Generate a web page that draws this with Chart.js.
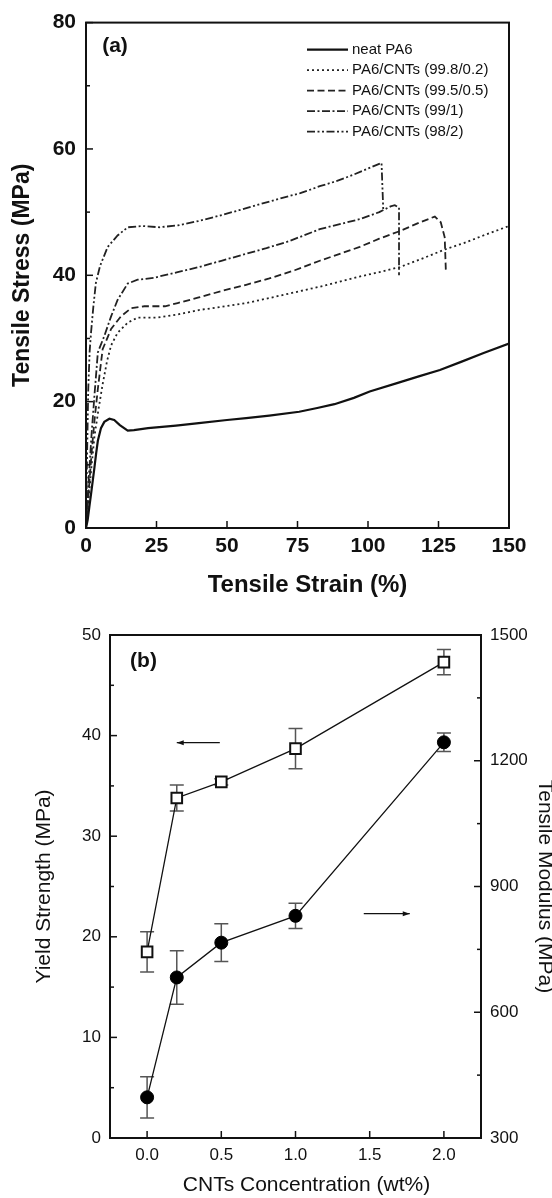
<!DOCTYPE html>
<html>
<head>
<meta charset="utf-8">
<script src="https://cdn.jsdelivr.net/npm/chart.js@4.4.1/dist/chart.umd.min.js"></script>
<style>
  html, body { margin: 0; padding: 0; background: #fff; overflow: hidden; }
  .panel { position: absolute; left: 0; width: 552px; }
  #wrapA { top: 0; height: 612px; }
  #wrapB { top: 612px; height: 586px; }
</style>
</head>
<body>
<div class="panel" id="wrapA"><canvas id="chartA"></canvas></div>
<div class="panel" id="wrapB"><canvas id="chartB"></canvas></div>
<script>
// ---- (a) stress-strain curves, [strain %, stress MPa] ----
const neatPA6 = [[0,0],[0.6,1.3],[1.2,3.4],[1.8,5.4],[2.4,7.5],[3,9.6],[3.6,11.8],[4.2,13.8],[5.3,15.8],[6.5,16.8],[8.3,17.3],[10,17.1],[12,16.3],[14.8,15.4],[17,15.5],[22,15.8],[31.9,16.2],[40,16.6],[50,17.1],[56.8,17.4],[65,17.8],[75.6,18.4],[82,19],[88.1,19.6],[95,20.6],[100.6,21.6],[110,22.9],[118,24],[125.5,25],[133,26.3],[141,27.7],[150,29.2]];
const cnt02 = [[0,0],[1,5],[2,10],[3,14.5],[4.5,19],[6,23],[7.5,26.5],[8.9,28.9],[11.2,30.9],[14.8,32.5],[18.3,33.3],[25,33.3],[32.5,33.8],[40,34.5],[48,35],[56.8,35.6],[65,36.4],[74,37.3],[82.9,38.2],[90,39],[97,39.8],[104,40.5],[111.3,41.3],[119,42.6],[127.3,44.1],[134,45.1],[140.9,46.3],[150,47.8]];
const cnt05 = [[0,0],[1,6],[2,12],[3,17],[4.2,22],[5.9,28.3],[8.9,31.5],[12.4,33.5],[16,34.8],[20.7,35.1],[28,35.1],[32.5,35.6],[40,36.5],[48,37.5],[56.8,38.5],[65,39.5],[74,40.8],[82.9,42.3],[90,43.4],[97.1,44.5],[104,45.8],[111.3,47],[118,48.3],[123.7,49.3],[125.8,48.4],[127.2,46],[127.6,40.8]];
const cnt1 = [[0,0],[1,8],[2,15],[3,21],[4.2,27.8],[6.5,30.4],[8.9,33.5],[11.2,36.1],[14.8,38.7],[18.3,39.3],[24,39.6],[32.5,40.5],[40,41.3],[48,42.3],[56,43.3],[64,44.3],[72,45.4],[82.9,47.3],[90,48.1],[97.2,48.9],[104,50],[108,50.9],[109.5,51.1],[111,50.7],[111,40]];
const cnt2 = [[0,0],[0.4,12],[0.8,22],[1.3,28],[1.8,31],[2.6,35],[3.5,38.8],[5,41.5],[7.7,44.5],[11.2,46.3],[14.8,47.6],[20,47.8],[26,47.6],[32.6,47.9],[40,48.6],[47,49.4],[54.3,50.3],[62,51.3],[70,52.3],[76,53],[82.9,54.1],[88.8,54.9],[94.7,55.9],[100,56.9],[104.8,57.8],[105.4,50.5]];
const seriesLabelsA = ['neat PA6', 'PA6/CNTs (99.8/0.2)', 'PA6/CNTs (99.5/0.5)', 'PA6/CNTs (99/1)', 'PA6/CNTs (98/2)'];
const strainTicks = [0, 25, 50, 75, 100, 125, 150];
const stressTicks = [0, 20, 40, 60, 80];
const stressMinor = [10, 30, 50, 70];

// ---- (b) yield strength / modulus vs CNT loading ----
const conc = [0, 0.2, 0.5, 1.0, 2.0];
const yieldStrength = [18.5, 33.8, 35.4, 38.7, 47.3];
const yieldErr = [2.0, 1.3, 0.3, 2.0, 1.25];
const modulus = [397, 683, 766, 830, 1244];
const modulusErr = [49, 64, 45, 30, 22];
const concTicks = [0, 0.5, 1, 1.5, 2];
const yieldTicks = [0, 10, 20, 30, 40, 50];
const yieldMinor = [5, 15, 25, 35, 45];
const modulusTicks = [300, 600, 900, 1200, 1500];
const modulusMinor = [450, 750, 1050, 1350];

Chart.defaults.font.family = "'Liberation Sans', Arial, sans-serif";
Chart.defaults.color = '#111';

const toXY = arr => arr.map(p => ({x: p[0], y: p[1]}));
const setTicks = vals => s => { s.ticks = vals.map(v => ({value: v})); };

// frame round the plot area plus inward tick marks
function framePlugin(spec) {
  return {
    id: 'frame',
    afterDraw(chart) {
      const {ctx, chartArea: a} = chart;
      ctx.save();
      ctx.strokeStyle = '#111';
      ctx.lineWidth = 1.5;
      spec.forEach(t => {
        const s = chart.scales[t.scale];
        const tick = (v, len) => {
          const p = s.getPixelForValue(v);
          ctx.beginPath();
          if (t.side === 'bottom') { ctx.moveTo(p, a.bottom); ctx.lineTo(p, a.bottom - len); }
          else if (t.side === 'left') { ctx.moveTo(a.left, p); ctx.lineTo(a.left + len, p); }
          else { ctx.moveTo(a.right, p); ctx.lineTo(a.right - len, p); }
          ctx.stroke();
        };
        t.major.forEach(v => tick(v, 7));
        (t.minor || []).forEach(v => tick(v, 4));
      });
      ctx.lineWidth = 2;
      ctx.strokeRect(a.left, a.top, a.right - a.left, a.bottom - a.top);
      ctx.restore();
    }
  };
}

function panelLabel(text, dx, dy) {
  return {
    id: 'panelLabel',
    afterDraw(chart) {
      const {ctx, chartArea: a} = chart;
      ctx.save();
      ctx.font = "bold 21px 'Liberation Sans', Arial, sans-serif";
      ctx.fillStyle = '#111';
      ctx.textAlign = 'center';
      ctx.textBaseline = 'middle';
      ctx.fillText(text, a.left + dx, a.top + dy);
      ctx.restore();
    }
  };
}

// x-axis title, sitting a little right of the plot centre as in the original
function xTitle(text, font, dx, y) {
  return {
    id: 'xTitle',
    afterDraw(chart) {
      const {ctx, chartArea: a} = chart;
      ctx.save();
      ctx.font = font;
      ctx.fillStyle = '#111';
      ctx.textAlign = 'center';
      ctx.textBaseline = 'middle';
      ctx.fillText(text, (a.left + a.right) / 2 + dx, y);
      ctx.restore();
    }
  };
}

const legendA = {
  id: 'legendA',
  afterDraw(chart) {
    const {ctx, chartArea: a} = chart;
    ctx.save();
    ctx.font = "15px 'Liberation Sans', Arial, sans-serif";
    ctx.textBaseline = 'middle';
    chart.data.datasets.forEach((ds, i) => {
      const y = a.top + 27 + i * 20.5;
      ctx.strokeStyle = ds.borderColor;
      ctx.lineWidth = ds.borderWidth;
      ctx.setLineDash(ds.borderDash || []);
      ctx.beginPath();
      ctx.moveTo(a.left + 221, y);
      ctx.lineTo(a.left + 262, y);
      ctx.stroke();
      ctx.setLineDash([]);
      ctx.fillStyle = '#111';
      ctx.fillText(ds.label, a.left + 266, y);
    });
    ctx.restore();
  }
};

const errorBars = {
  id: 'errorBars',
  beforeDatasetsDraw(chart) {
    const {ctx} = chart;
    const xs = chart.scales.x;
    ctx.save();
    ctx.strokeStyle = '#555';
    ctx.lineWidth = 1.5;
    chart.data.datasets.forEach(ds => {
      const ys = chart.scales[ds.yAxisID];
      ds.data.forEach((pt, i) => {
        const e = ds.errors[i];
        const px = xs.getPixelForValue(pt.x);
        const t = ys.getPixelForValue(pt.y + e);
        const b = ys.getPixelForValue(pt.y - e);
        ctx.beginPath();
        ctx.moveTo(px, t); ctx.lineTo(px, b);
        ctx.moveTo(px - 7, t); ctx.lineTo(px + 7, t);
        ctx.moveTo(px - 7, b); ctx.lineTo(px + 7, b);
        ctx.stroke();
      });
    });
    ctx.restore();
  }
};

// arrows telling which axis each series belongs to (tail -> head, data units)
const arrowsB = [
  {from: [0.49, 39.3], to: [0.2, 39.3]},
  {from: [1.46, 22.3], to: [1.77, 22.3]}
];
const arrowPlugin = {
  id: 'arrows',
  afterDatasetsDraw(chart) {
    const {ctx} = chart;
    const xs = chart.scales.x, ys = chart.scales.y;
    ctx.save();
    ctx.strokeStyle = '#111';
    ctx.fillStyle = '#111';
    ctx.lineWidth = 1.4;
    arrowsB.forEach(ar => {
      const x0 = xs.getPixelForValue(ar.from[0]), y0 = ys.getPixelForValue(ar.from[1]);
      const x1 = xs.getPixelForValue(ar.to[0]), y1 = ys.getPixelForValue(ar.to[1]);
      const dir = Math.sign(x1 - x0);
      ctx.beginPath(); ctx.moveTo(x0, y0); ctx.lineTo(x1, y1); ctx.stroke();
      ctx.beginPath();
      ctx.moveTo(x1, y1);
      ctx.lineTo(x1 - dir * 7, y1 - 2.5);
      ctx.lineTo(x1 - dir * 7, y1 + 2.5);
      ctx.closePath(); ctx.fill();
    });
    ctx.restore();
  }
};

const noGrid = {display: false, drawTicks: false};
const noBorder = {display: false};

new Chart(document.getElementById('chartA'), {
  type: 'line',
  data: {
    datasets: [
      {label: seriesLabelsA[0], data: toXY(neatPA6), borderColor: '#111', borderWidth: 2.2, borderDash: []},
      {label: seriesLabelsA[1], data: toXY(cnt02), borderColor: '#222', borderWidth: 1.8, borderDash: [2, 3]},
      {label: seriesLabelsA[2], data: toXY(cnt05), borderColor: '#222', borderWidth: 1.8, borderDash: [7, 3.5]},
      {label: seriesLabelsA[3], data: toXY(cnt1), borderColor: '#222', borderWidth: 1.8, borderDash: [8, 2.5, 2, 2.5]},
      {label: seriesLabelsA[4], data: toXY(cnt2), borderColor: '#222', borderWidth: 1.8, borderDash: [8, 2.5, 2, 2.5, 2, 2.5]}
    ]
  },
  options: {
    responsive: true,
    maintainAspectRatio: false,
    animation: false,
    layout: {padding: {top: 16, right: 43, left: 0, bottom: 0}},
    plugins: {legend: {display: false}, tooltip: {enabled: false}},
    elements: {point: {radius: 0}, line: {tension: 0, fill: false}},
    scales: {
      x: {
        type: 'linear', min: 0, max: 150,
        grid: noGrid, border: noBorder,
        afterBuildTicks: setTicks(strainTicks),
        afterFit: s => { s.height = 84; },
        ticks: {padding: 6, autoSkip: false, maxRotation: 0, font: {size: 21, weight: 'bold'}},
        title: {display: false}
      },
      y: {
        type: 'linear', min: 0, max: 80,
        grid: noGrid, border: noBorder,
        afterBuildTicks: setTicks(stressTicks),
        afterFit: s => { s.width = 86; },
        ticks: {padding: 10, autoSkip: false, font: {size: 21, weight: 'bold'}},
        title: {display: true, text: 'Tensile Stress (MPa)', font: {size: 23, weight: 'bold'}, padding: {top: 9, bottom: 0}}
      }
    }
  },
  plugins: [
    framePlugin([
      {scale: 'x', side: 'bottom', major: strainTicks},
      {scale: 'y', side: 'left', major: stressTicks, minor: stressMinor}
    ]),
    legendA,
    panelLabel('(a)', 29, 24),
    xTitle('Tensile Strain (%)', "bold 24px 'Liberation Sans', Arial, sans-serif", 10, 585)
  ]
});

new Chart(document.getElementById('chartB'), {
  type: 'line',
  data: {
    datasets: [
      {
        label: 'Yield Strength', yAxisID: 'y',
        data: conc.map((c, i) => ({x: c, y: yieldStrength[i]})), errors: yieldErr,
        borderColor: '#111', borderWidth: 1.3,
        pointStyle: 'rect', pointRadius: 7.5, pointBackgroundColor: '#fff', pointBorderColor: '#111', pointBorderWidth: 2
      },
      {
        label: 'Tensile Modulus', yAxisID: 'y2',
        data: conc.map((c, i) => ({x: c, y: modulus[i]})), errors: modulusErr,
        borderColor: '#111', borderWidth: 1.3,
        pointStyle: 'circle', pointRadius: 6.5, pointBackgroundColor: '#000', pointBorderColor: '#000', pointBorderWidth: 1
      }
    ]
  },
  options: {
    responsive: true,
    maintainAspectRatio: false,
    animation: false,
    layout: {padding: {top: 23, right: 0, left: 0, bottom: 0}},
    plugins: {legend: {display: false}, tooltip: {enabled: false}},
    elements: {line: {tension: 0, fill: false}},
    scales: {
      x: {
        type: 'linear', min: -0.25, max: 2.25,
        grid: noGrid, border: noBorder,
        afterBuildTicks: setTicks(concTicks),
        afterFit: s => { s.height = 60; },
        ticks: {padding: 7, autoSkip: false, maxRotation: 0, font: {size: 17}, callback: v => v.toFixed(1)},
        title: {display: false}
      },
      y: {
        type: 'linear', position: 'left', min: 0, max: 50,
        grid: noGrid, border: noBorder,
        afterBuildTicks: setTicks(yieldTicks),
        afterFit: s => { s.width = 110; },
        ticks: {padding: 9, autoSkip: false, font: {size: 17}},
        title: {display: true, text: 'Yield Strength (MPa)', font: {size: 21}, padding: {top: 32, bottom: 0}}
      },
      y2: {
        type: 'linear', position: 'right', min: 300, max: 1500,
        grid: noGrid, border: noBorder,
        afterBuildTicks: setTicks(modulusTicks),
        afterFit: s => { s.width = 71; },
        ticks: {padding: 9, autoSkip: false, font: {size: 17}, callback: v => String(v)},
        title: {display: true, text: 'Tensile Modulus (MPa)', font: {size: 21}, padding: {top: -5, bottom: 0}}
      }
    }
  },
  plugins: [
    errorBars,
    arrowPlugin,
    framePlugin([
      {scale: 'x', side: 'bottom', major: concTicks},
      {scale: 'y', side: 'left', major: yieldTicks, minor: yieldMinor},
      {scale: 'y2', side: 'right', major: modulusTicks, minor: modulusMinor}
    ]),
    panelLabel('(b)', 33.5, 26.7),
    xTitle('CNTs Concentration (wt%)', "21px 'Liberation Sans', Arial, sans-serif", 11, 573)
  ]
});
</script>
</body>
</html>
